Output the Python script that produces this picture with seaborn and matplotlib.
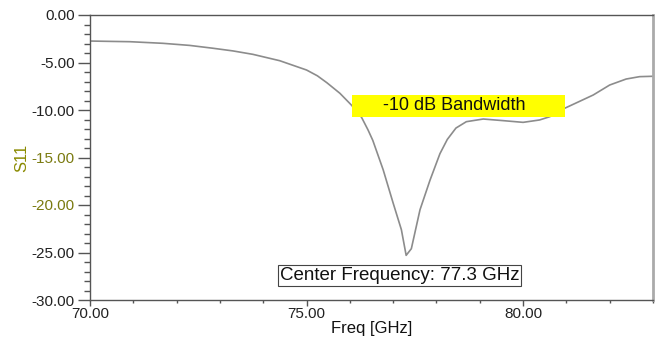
# S11 return loss of the antenna, redrawn from the HFSS plot
import matplotlib
matplotlib.use("Agg")
import matplotlib.pyplot as plt
from matplotlib.patches import Rectangle
from matplotlib.ticker import MultipleLocator, FormatStrFormatter
import seaborn as sns
import pandas as pd

freq = [70.0, 70.5, 70.92, 71.68, 72.3, 72.84, 73.3, 73.76, 74.38, 75.0,
        75.25, 75.47, 75.77, 76.04, 76.27, 76.42, 76.53, 76.77, 77.0, 77.19,
        77.3, 77.42, 77.62, 77.85, 78.08, 78.25, 78.45, 78.69, 79.08, 79.54,
        80.0, 80.38, 80.62, 80.96, 81.3, 81.62, 82.0, 82.38, 82.69, 83.0]
s11 = [-2.74, -2.78, -2.81, -2.98, -3.2, -3.5, -3.78, -4.14, -4.81, -5.79,
       -6.4, -7.13, -8.24, -9.5, -10.77, -12.1, -13.2, -16.3, -19.8, -22.6,
       -25.3, -24.6, -20.5, -17.4, -14.6, -13.1, -11.9, -11.23, -10.95, -11.12,
       -11.3, -11.05, -10.7, -9.82, -9.1, -8.42, -7.37, -6.74, -6.49, -6.45]

bw_label = "-10 dB Bandwidth"
bw_low, bw_high = 76.05, 80.96
center_label = "Center Frequency: 77.3 GHz"

df = pd.DataFrame({"Freq [GHz]": freq, "S11": s11})

sns.set_style("ticks")
plt.rcParams['font.family'] = ['Liberation Sans', 'DejaVu Sans']

fig = plt.figure(figsize=(6.58, 3.38), dpi=100)
ax = fig.add_axes([90 / 658, 1 - 300 / 338, 563 / 658, 285 / 338])

sns.lineplot(data=df, x="Freq [GHz]", y="S11", ax=ax, color="#8c8c8c",
             linewidth=1.2, zorder=2, solid_joinstyle="round")

ax.set_xlim(70, 83)
ax.set_ylim(-30, 0)
ax.xaxis.set_major_locator(MultipleLocator(5))
ax.xaxis.set_minor_locator(MultipleLocator(1))
ax.yaxis.set_major_locator(MultipleLocator(5))
ax.yaxis.set_minor_locator(MultipleLocator(1))
ax.xaxis.set_major_formatter(FormatStrFormatter("%.2f"))
ax.yaxis.set_major_formatter(FormatStrFormatter("%.2f"))

ax.tick_params(axis="y", which="major", length=9, width=1, color="#555555",
               labelsize=11, pad=2, labelcolor="#222222")
ax.tick_params(axis="y", which="minor", length=4.5, width=1, color="#555555")
ax.tick_params(axis="x", which="major", length=4, width=1, color="#555555",
               labelsize=11, pad=1, labelcolor="#222222")
ax.tick_params(axis="x", which="minor", length=2.5, width=1, color="#555555")

for lab in ax.get_yticklabels():
    if lab.get_text() in ("-15.00", "-20.00"):
        lab.set_color("#7a7a10")

for side in ("left", "bottom", "top"):
    ax.spines[side].set_color("#555555")
    ax.spines[side].set_linewidth(1)
ax.spines["right"].set_color("#aaaaaa")
ax.spines["right"].set_linewidth(2)

ax.set_xlabel("Freq [GHz]", fontsize=12, labelpad=0, color="#111111")
ax.set_ylabel("S11", fontsize=12, labelpad=2, color="#8a8a00")

# yellow bandwidth marker
ax.add_patch(Rectangle((bw_low, -10.75), bw_high - bw_low, 2.33,
                       facecolor="#ffff00", edgecolor="none", zorder=3))
ax.text((bw_low + bw_high) / 2 - 0.1, -9.55, bw_label, fontsize=13,
        ha="center", va="center", color="#111111", zorder=4)

ax.text(77.15, -27.4, center_label, fontsize=13.5, ha="center", va="center",
        color="#111111", zorder=4,
        bbox=dict(boxstyle="square,pad=0.1", facecolor="white",
                  edgecolor="#444444", linewidth=0.8))

fig.savefig("out.png", dpi=100)
